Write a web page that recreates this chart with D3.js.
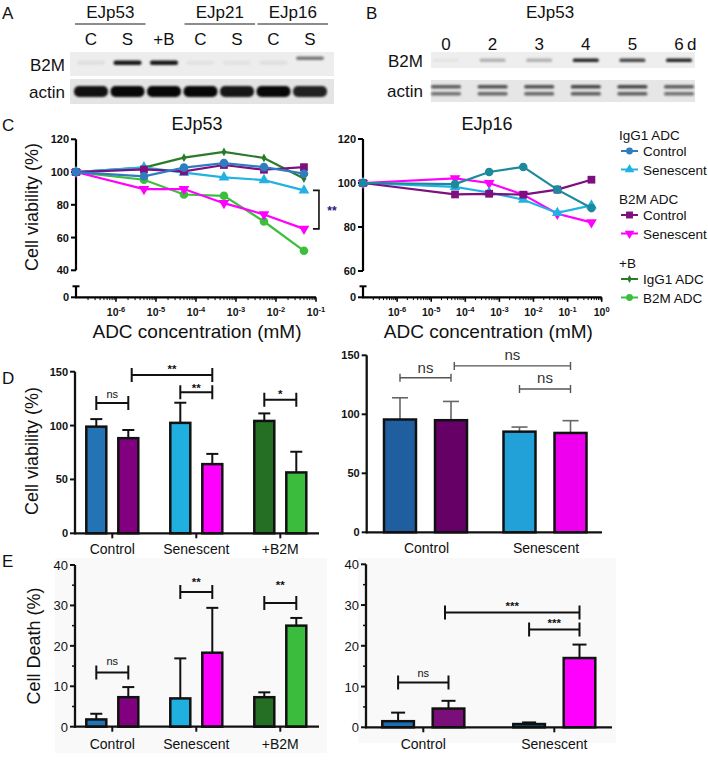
<!DOCTYPE html>
<html><head><meta charset="utf-8">
<script src="https://cdn.jsdelivr.net/npm/d3@7"></script>
<style>body{margin:0;background:#fff} svg{display:block} text{font-family:"Liberation Sans",Arial,sans-serif}</style>
</head><body><svg id="c" width="708" height="764"></svg>
<script>
// ---------------- DATA ----------------
// Blot A
const blotALanes = ["C", "S", "+B", "C", "S", "C", "S"];
const blotAGroupNames = ["EJp53", "EJp21", "EJp16"];
const blotAGroupLanes = [[0, 1], [3, 4], [5, 6]];
const blotAB2M = [0.05, 0.9, 0.9, 0.04, 0.04, 0.05, 0.5];
const blotAActin = [0.92, 0.97, 0.97, 0.97, 0.9, 0.97, 0.85];
// Blot B (days)
const blotBLanes = ["0", "2", "3", "4", "5", "6"];
const blotBB2M = [0.04, 0.25, 0.25, 0.85, 0.7, 0.85];
const blotBActin = [0.6, 0.65, 0.65, 0.7, 0.7, 0.6];

// Panel C: viability vs ADC concentration (mM)
const concEJp53 = [0, 5e-6, 5e-5, 5e-4, 5e-3, 5e-2];
const concEJp16 = [0, 5e-5, 5e-4, 5e-3, 5e-2, 5e-1];
const ejp53IgG1Control = [100, 97.4, 102.7, 105.5, 103, 99];
const ejp53IgG1Senescent = [100, 102.9, 99.6, 96.8, 95.1, 88.8];
const ejp53B2MControl = [100, 101.6, 100.4, 104.3, 101.4, 103];
const ejp53B2MSenescent = [100, 89.6, 89.6, 81, 74.1, 65.3];
const ejp53PlusBIgG1 = [100, 102.7, 108.8, 112.3, 108.6, 96];
const ejp53PlusBB2M = [100, 95.3, 86.3, 85.5, 69.8, 51.9];
const ejp16IgG1Control = [100, 99.5, 105, 107.3, 97, 88.6];
const ejp16IgG1Senescent = [100, 98.2, 95.7, 92.4, 86.4, 89.8];
const ejp16B2MControl = [100, 94.8, 95.1, 94.7, 97, 101.5];
const ejp16B2MSenescent = [100, 102.1, 100, 94.7, 86, 82.1];
const cLeftYTicks = [40, 60, 80, 100, 120];
const cRightYTicks = [60, 80, 100, 120];
const cLeftXTicks = [-6, -5, -4, -3, -2, -1];
const cRightXTicks = [-6, -5, -4, -3, -2, -1, 0];

// Panel D: viability bars
const dLeftGroups = ["Control", "Senescent", "+B2M"];
const dLeftMeans = [99, 88.3, 102.5, 64.2, 104.3, 56.5];
const dLeftErr = [7, 7.6, 18.7, 9.5, 7, 19.2];
const dRightGroups = ["Control", "Senescent"];
const dRightMeans = [95.6, 95, 85.3, 84.2];
const dRightErr = [18.4, 15.9, 3.9, 10.4];
const dYTicks = [0, 50, 100, 150];

// Panel E: cell death bars
const eLeftMeans = [1.8, 7.3, 7, 18.3, 7.3, 25];
const eLeftErr = [1.4, 2.5, 9.9, 11.1, 1.2, 1.9];
const eRightMeans = [1.5, 4.6, 0.8, 17];
const eRightErr = [2.1, 1.9, 0.4, 3.3];
const eYTicks = [0, 10, 20, 30, 40];
const eYMinor = [5, 15, 25, 35];

// ---------------- STYLE ----------------
const COL = {
  igCtrl: "#2f7dbf", igSen: "#22b2e2", b2mCtrl: "#7d0f7f", b2mSen: "#ff00ff",
  pbIg: "#2a7a2a", pbB2m: "#3cbf3c", igCtrl16: "#1c8a9c"
};
const svg = d3.select("#c");
const defs = svg.append("defs");
defs.append("filter").attr("id", "blur").attr("x", "-50%").attr("y", "-100%").attr("width", "200%").attr("height", "300%")
  .append("feGaussianBlur").attr("stdDeviation", 1.1);

function text(g, x, y, s, o = {}) {
  const t = g.append("text").attr("x", x).attr("y", y).text(s)
    .attr("font-size", o.size || 16).attr("fill", o.fill || "#111")
    .attr("text-anchor", o.anchor || "start");
  if (o.weight) t.attr("font-weight", o.weight);
  if (o.rotate) t.attr("transform", `rotate(${o.rotate},${x},${y})`);
  return t;
}

// ---------------- BLOTS ----------------
const gA = svg.append("g");
text(gA, 2, 19, "A", {size: 17});
const xA = d3.scalePoint().domain(d3.range(blotALanes.length)).range([91, 310]);
blotAGroupNames.forEach((n, i) => {
  const l = blotAGroupLanes[i];
  const x0 = xA(l[0]) - 16, x1 = xA(l[1]) + 18;
  text(gA, (x0 + x1) / 2, 18, n, {size: 17, anchor: "middle"});
  gA.append("line").attr("x1", x0).attr("x2", x1).attr("y1", 24).attr("y2", 24).attr("stroke", "#666").attr("stroke-width", 1.3);
});
blotALanes.forEach((l, i) => text(gA, xA(i), 45, l, {size: 17, anchor: "middle"}));
text(gA, 65, 71, "B2M", {size: 17, anchor: "end"});
text(gA, 65, 98, "actin", {size: 17, anchor: "end"});
gA.append("rect").attr("x", 70).attr("y", 52).attr("width", 264).attr("height", 24).attr("fill", "#ededed");
gA.append("rect").attr("x", 70).attr("y", 79).attr("width", 264).attr("height", 25).attr("fill", "#e4e4e4");
gA.selectAll(".b2mA").data(blotAB2M).join("rect")
  .attr("x", (d, i) => xA(i) - 14).attr("y", (d, i) => i === 6 ? 56.5 : 60.5).attr("width", 28).attr("height", (d, i) => i === 6 ? 3.5 : 4.5).attr("rx", 2)
  .attr("fill", "#000").attr("opacity", d => d).attr("filter", "url(#blur)");
gA.selectAll(".actA").data(blotAActin).join("rect")
  .attr("x", (d, i) => xA(i) - 17).attr("y", 86).attr("width", 34).attr("height", 11).attr("rx", 5)
  .attr("fill", "#000").attr("opacity", d => d).attr("filter", "url(#blur)");

const gB = svg.append("g");
text(gB, 366, 19, "B", {size: 17});
text(gB, 550, 18, "EJp53", {size: 17, anchor: "middle"});
const xB = d3.scalePoint().domain(d3.range(blotBLanes.length)).range([446, 679]);
blotBLanes.forEach((l, i) => text(gB, xB(i), 50, l, {size: 17, anchor: "middle"}));
text(gB, xB(5) + 8, 50, "d", {size: 17});
text(gB, 423, 67, "B2M", {size: 17, anchor: "end"});
text(gB, 423, 97, "actin", {size: 17, anchor: "end"});
gB.append("rect").attr("x", 431).attr("y", 52).attr("width", 264).attr("height", 16).attr("fill", "#eeeeee");
gB.append("rect").attr("x", 431).attr("y", 80).attr("width", 264).attr("height", 22).attr("fill", "#e6e6e6");
gB.selectAll(".b2mB").data(blotBB2M).join("rect")
  .attr("x", (d, i) => xB(i) - 13).attr("y", 58.5).attr("width", 26).attr("height", 3.5).attr("rx", 1.5)
  .attr("fill", "#000").attr("opacity", d => d).attr("filter", "url(#blur)");
[85, 92].forEach((yy, k) => {
  gB.selectAll(".actB" + k).data(blotBActin).join("rect")
    .attr("x", (d, i) => xB(i) - 15).attr("y", yy).attr("width", 30).attr("height", 3.5).attr("rx", 1.5)
    .attr("fill", "#000").attr("opacity", d => d * (k ? 0.85 : 1)).attr("filter", "url(#blur)");
});

// ---------------- PANEL C ----------------
text(svg, 2, 131, "C", {size: 17});
function marker(g, shape, x, y, color, s = 1) {
  if (shape === "circle") g.append("circle").attr("cx", x).attr("cy", y).attr("r", 4.3 * s).attr("fill", color);
  else {
    const sym = {square: d3.symbolSquare, up: d3.symbolTriangle, down: d3.symbolTriangle, diamond: d3.symbolDiamond}[shape];
    const size = {square: 60, up: 50, down: 50, diamond: 22}[shape] * s;
    g.append("path").attr("d", d3.symbol(sym, size)())
      .attr("transform", `translate(${x},${y})` + (shape === "down" ? " rotate(180)" : ""))
      .attr("fill", color);
  }
}
function supTick(g, x, y, e) {
  const t = g.append("text").attr("x", x).attr("y", y).attr("text-anchor", "middle")
    .attr("font-size", 10.5).attr("font-weight", "bold").attr("fill", "#111");
  t.append("tspan").text("10");
  t.append("tspan").text(String(e)).attr("font-size", 7.5).attr("dy", -4.5);
}
function curveChart(o) {
  const g = svg.append("g");
  const x = d3.scaleLog().domain(o.xDomain).range(o.xRange);
  const y = d3.scaleLinear().domain(o.yDomain).range(o.yRange);
  const yZero = o.yZero;
  const xv = c => c === 0 ? x(o.xDomain[0]) : x(c);
  const ax = o.xRange[0];
  g.append("line").attr("x1", ax).attr("x2", ax).attr("y1", y(o.yDomain[1])).attr("y2", y(o.yDomain[0])).attr("stroke", "#000").attr("stroke-width", 2.2);
  g.append("line").attr("x1", ax).attr("x2", ax).attr("y1", yZero - 11).attr("y2", yZero).attr("stroke", "#000").attr("stroke-width", 2.2);
  g.append("line").attr("x1", ax - 3.5).attr("x2", ax + 3.5).attr("y1", yZero - 11).attr("y2", yZero - 11).attr("stroke", "#000").attr("stroke-width", 2);
  o.yTicks.forEach(v => {
    g.append("line").attr("x1", ax - 5).attr("x2", ax).attr("y1", y(v)).attr("y2", y(v)).attr("stroke", "#000").attr("stroke-width", 2);
    text(g, ax - 7, y(v) + 4, v, {size: 11, weight: "bold", anchor: "end"});
  });
  g.append("line").attr("x1", ax - 5).attr("x2", ax).attr("y1", yZero).attr("y2", yZero).attr("stroke", "#000").attr("stroke-width", 2);
  text(g, ax - 7, yZero + 4, 0, {size: 11, weight: "bold", anchor: "end"});
  g.append("line").attr("x1", ax - 1).attr("x2", o.xRange[1]).attr("y1", yZero).attr("y2", yZero).attr("stroke", "#000").attr("stroke-width", 2.2);
  const lo = Math.round(Math.log10(o.xDomain[0])), hi = Math.round(Math.log10(o.xDomain[1]));
  for (let e = lo; e < hi; e++) for (let k = 2; k <= 10; k++) {
    const v = k * Math.pow(10, e), xx = x(v);
    g.append("line").attr("x1", xx).attr("x2", xx).attr("y1", yZero).attr("y2", yZero + (k === 10 ? 4.5 : 2.8)).attr("stroke", "#000").attr("stroke-width", k === 10 ? 1.6 : 1);
  }
  o.xTicks.forEach(e => supTick(g, x(Math.pow(10, e)), yZero + 19, e));
  text(g, (o.xRange[0] + o.xRange[1]) / 2 + (o.titleDx || 0), 338, "ADC concentration (mM)", {size: 19, anchor: "middle"});
  text(g, o.titleX, 130, o.title, {size: 18, anchor: "middle"});
  const line = d3.line().x((d, i) => xv(o.conc[i])).y(d => y(d));
  o.series.forEach(s => {
    g.append("path").attr("d", line(s.values)).attr("fill", "none").attr("stroke", s.color).attr("stroke-width", 2.2);
    s.values.forEach((v, i) => marker(g, s.shape, xv(o.conc[i]), y(v), s.color));
  });
  return {x, y, g, xv};
}
const cL = curveChart({
  xDomain: [1e-7, 1e-1], xRange: [76, 316], yDomain: [40, 120], yRange: [270.3, 139.3], yZero: 297.3,
  yTicks: cLeftYTicks, xTicks: cLeftXTicks, conc: concEJp53, title: "EJp53", titleX: 197, titleDx: 1,
  series: [
    {values: ejp53PlusBIgG1, color: COL.pbIg, shape: "diamond"},
    {values: ejp53PlusBB2M, color: COL.pbB2m, shape: "circle"},
    {values: ejp53B2MSenescent, color: COL.b2mSen, shape: "down"},
    {values: ejp53IgG1Senescent, color: COL.igSen, shape: "up"},
    {values: ejp53B2MControl, color: COL.b2mCtrl, shape: "square"},
    {values: ejp53IgG1Control, color: COL.igCtrl, shape: "circle"}
  ]
});
{
  const xb = cL.x(5e-2) + 15, y1 = cL.y(ejp53IgG1Senescent[5]), y2 = cL.y(ejp53B2MSenescent[5]);
  cL.g.append("path").attr("d", `M${xb - 6},${y1}H${xb}V${y2}H${xb - 6}`).attr("fill", "none").attr("stroke", "#111").attr("stroke-width", 1.6);
  text(cL.g, xb + 13, (y1 + y2) / 2 + 5, "**", {size: 12, weight: "bold", fill: "#1b1b80", anchor: "middle"});
}
const cR = curveChart({
  xDomain: [1e-7, 1], xRange: [363, 601.7], yDomain: [60, 120], yRange: [271, 139], yZero: 297.3,
  yTicks: cRightYTicks, xTicks: cRightXTicks, conc: concEJp16, title: "EJp16", titleX: 487, titleDx: 6,
  series: [
    {values: ejp16B2MSenescent, color: COL.b2mSen, shape: "down"},
    {values: ejp16IgG1Senescent, color: COL.igSen, shape: "up"},
    {values: ejp16B2MControl, color: COL.b2mCtrl, shape: "square"},
    {values: ejp16IgG1Control, color: COL.igCtrl16, shape: "circle"}
  ]
});
text(svg, 38, 207, "Cell viability (%)", {size: 18, anchor: "middle", rotate: -90});

// Legend
const legendTitles = ["IgG1 ADC", "B2M ADC", "+B"];
const legendItems = [
  [{label: "Control", color: COL.igCtrl, shape: "circle"}, {label: "Senescent", color: COL.igSen, shape: "up"}],
  [{label: "Control", color: COL.b2mCtrl, shape: "square"}, {label: "Senescent", color: COL.b2mSen, shape: "down"}],
  [{label: "IgG1 ADC", color: COL.pbIg, shape: "diamond"}, {label: "B2M ADC", color: COL.pbB2m, shape: "circle"}]
];
{
  const gl = svg.append("g");
  const blockY = d3.scaleLinear().domain([0, 1]).range([140, 204]);
  legendTitles.forEach((t, bi) => {
    const y0 = blockY(bi);
    text(gl, 619, y0, t, {size: 13.5});
    legendItems[bi].forEach((it, j) => {
      const yy = y0 + 16 + j * 18.5;
      gl.append("line").attr("x1", 621).attr("x2", 638).attr("y1", yy - 5).attr("y2", yy - 5).attr("stroke", it.color).attr("stroke-width", 2);
      marker(gl, it.shape, 629.5, yy - 5, it.color, 0.8);
      text(gl, 643, yy, it.label, {size: 13.5});
    });
  });
}

// ---------------- BAR CHARTS ----------------
function barChart(o) {
  const g = svg.append("g");
  const y = d3.scaleLinear().domain(o.yDomain).range(o.yRange);
  const xg = d3.scalePoint().domain(o.groups).range(o.groupRange);
  const xi = d3.scaleBand().domain([0, 1]).range([-o.half, o.half]).paddingInner(o.padIn);
  const bw = xi.bandwidth();
  if (o.bg) g.append("rect").attr("x", o.bg[0]).attr("y", o.bg[1]).attr("width", o.bg[2]).attr("height", o.bg[3]).attr("fill", "#f9f9f9");
  const bx = i => xg(o.groups[Math.floor(i / 2)]) + xi(i % 2);
  o.means.forEach((m, i) => {
    const cx = bx(i) + bw / 2, yt = y(m + o.err[i]);
    g.append("line").attr("x1", cx).attr("x2", cx).attr("y1", y(m)).attr("y2", yt).attr("stroke", o.errColor).attr("stroke-width", o.errW);
    g.append("line").attr("x1", cx - o.cap).attr("x2", cx + o.cap).attr("y1", yt).attr("y2", yt).attr("stroke", o.errColor).attr("stroke-width", o.errW);
  });
  g.selectAll(".bar").data(o.means).join("rect")
    .attr("x", (d, i) => bx(i)).attr("width", bw)
    .attr("y", d => y(d)).attr("height", d => y(0) - y(d))
    .attr("fill", (d, i) => o.colors[i]).attr("stroke", "#111").attr("stroke-width", 2.5);
  const ax = o.axisX;
  g.append("line").attr("x1", ax).attr("x2", ax).attr("y1", o.yRange[1]).attr("y2", y(0) + 1).attr("stroke", "#111").attr("stroke-width", 2.3);
  g.append("line").attr("x1", ax - 1).attr("x2", o.axisEnd).attr("y1", y(0)).attr("y2", y(0)).attr("stroke", "#111").attr("stroke-width", 2.3);
  o.yTicks.forEach(v => {
    g.append("line").attr("x1", ax - 5).attr("x2", ax).attr("y1", y(v)).attr("y2", y(v)).attr("stroke", "#111").attr("stroke-width", 2);
    text(g, ax - 7, y(v) + (o.tickBold ? 4 : 5), v, {size: o.tickSize, weight: o.tickBold ? "bold" : null, anchor: "end"});
  });
  (o.yMinor || []).forEach(v => g.append("line").attr("x1", ax - 3).attr("x2", ax).attr("y1", y(v)).attr("y2", y(v)).attr("stroke", "#111").attr("stroke-width", 1.5));
  o.groups.forEach(gr => {
    if (o.catTicks) g.append("line").attr("x1", xg(gr)).attr("x2", xg(gr)).attr("y1", y(0)).attr("y2", y(0) + 5).attr("stroke", "#111").attr("stroke-width", 2);
    text(g, xg(gr) + (o.labelDx || 0), y(0) + o.labelDy, gr, {size: 14, anchor: "middle"});
  });
  const barC = i => bx(i) + bw / 2;
  o.sig.forEach(s => {
    const x1 = s.x1 !== undefined ? s.x1 : barC(s.a), x2 = barC(s.b), yy = y(s.y);
    g.append("path").attr("d", `M${x1},${yy}H${x2}M${x1},${yy - o.sigCap}V${yy + o.sigCap}M${x2},${yy - o.sigCap}V${yy + o.sigCap}`)
      .attr("stroke", o.sigColor).attr("stroke-width", o.sigW).attr("fill", "none");
    const isNs = s.label === "ns";
    const size = isNs ? o.nsSize : 11.5;
    const base = yy - s.gap + (isNs ? 0.27 : 0.6) * size;
    text(g, (x1 + x2) / 2, base, s.label, {size, weight: isNs ? null : "bold", fill: o.sigColor === "#111" ? "#111" : "#333", anchor: "middle"});
  });
  return {g, y, xg, bx, barC};
}
// D left
text(svg, 2, 384, "D", {size: 17});
barChart({
  yDomain: [0, 150], yRange: [533.3, 371.7], groups: dLeftGroups, groupRange: [112.3, 280.3], half: 26, padIn: 0.375,
  means: dLeftMeans, err: dLeftErr, colors: ["#2473b4", "#800080", "#1fb0e0", "#ff00ff", "#246f24", "#3cbc3c"],
  errColor: "#111", errW: 2, cap: 6, axisX: 75, axisEnd: 319, yTicks: dYTicks, tickSize: 11, tickBold: true,
  catTicks: true, labelDy: 21,
  sig: [{a: 0, b: 1, y: 121, label: "ns", gap: 7.5}, {a: 1, b: 3, y: 147, label: "**", x1: 131.7, gap: 9},
        {a: 2, b: 3, y: 131, label: "**", gap: 7.5}, {a: 4, b: 5, y: 124, label: "*", gap: 8.5}],
  sigColor: "#111", sigW: 2, sigCap: 7, nsSize: 11
});
text(svg, 38, 451, "Cell viability (%)", {size: 18, anchor: "middle", rotate: -90});
// D right
barChart({
  yDomain: [0, 150], yRange: [532.3, 355.3], groups: dRightGroups, groupRange: [425.5, 545], half: 41.5, padIn: 0.373,
  means: dRightMeans, err: dRightErr, colors: ["#1f5fa0", "#660066", "#22a0d8", "#ee00ee"],
  errColor: "#666", errW: 1.6, cap: 8, axisX: 366.7, axisEnd: 602, yTicks: dYTicks, tickSize: 11, tickBold: true,
  catTicks: false, labelDy: 21, labelDx: 1,
  sig: [{a: 0, b: 1, y: 131, label: "ns", gap: 9}, {a: 1, b: 3, y: 141, label: "ns", x1: 454.3, gap: 10},
        {a: 2, b: 3, y: 121.5, label: "ns", gap: 9.7}],
  sigColor: "#555", sigW: 1.4, sigCap: 4, nsSize: 15
});
// E left
text(svg, 2, 567, "E", {size: 17});
barChart({
  yDomain: [0, 40], yRange: [726.7, 565], groups: dLeftGroups, groupRange: [112.3, 280.3], half: 26, padIn: 0.375,
  means: eLeftMeans, err: eLeftErr, colors: ["#2473b4", "#800080", "#1fb0e0", "#ff00ff", "#246f24", "#3cbc3c"],
  errColor: "#111", errW: 2, cap: 6, axisX: 75, axisEnd: 319, yTicks: eYTicks, yMinor: eYMinor, tickSize: 13, tickBold: false,
  catTicks: true, labelDy: 22, bg: [55, 558, 272, 195],
  sig: [{a: 0, b: 1, y: 13.4, label: "ns", gap: 10.3}, {a: 2, b: 3, y: 33.3, label: "**", gap: 13},
        {a: 4, b: 5, y: 30.6, label: "**", gap: 20.6}],
  sigColor: "#111", sigW: 2, sigCap: 7, nsSize: 11
});
text(svg, 40, 646, "Cell Death (%)", {size: 18, anchor: "middle", rotate: -90});
// E right
barChart({
  yDomain: [0, 40], yRange: [727.3, 564.3], groups: dRightGroups, groupRange: [423.3, 554.3], half: 41, padIn: 0.373,
  means: eRightMeans, err: eRightErr, colors: ["#1f6fb0", "#7a0f7a", "#1a5a7a", "#ff00ff"],
  errColor: "#111", errW: 2, cap: 7, axisX: 366, axisEnd: 612, yTicks: eYTicks, yMinor: eYMinor, tickSize: 13, tickBold: false,
  catTicks: true, labelDy: 22, bg: [358, 558, 258, 185],
  sig: [{a: 0, b: 1, y: 11, label: "ns", gap: 8.3}, {a: 1, b: 3, y: 28.2, label: "***", x1: 445, gap: 9.3},
        {a: 2, b: 3, y: 24, label: "***", gap: 9.7}],
  sigColor: "#111", sigW: 2, sigCap: 7, nsSize: 11
});
</script></body></html>
